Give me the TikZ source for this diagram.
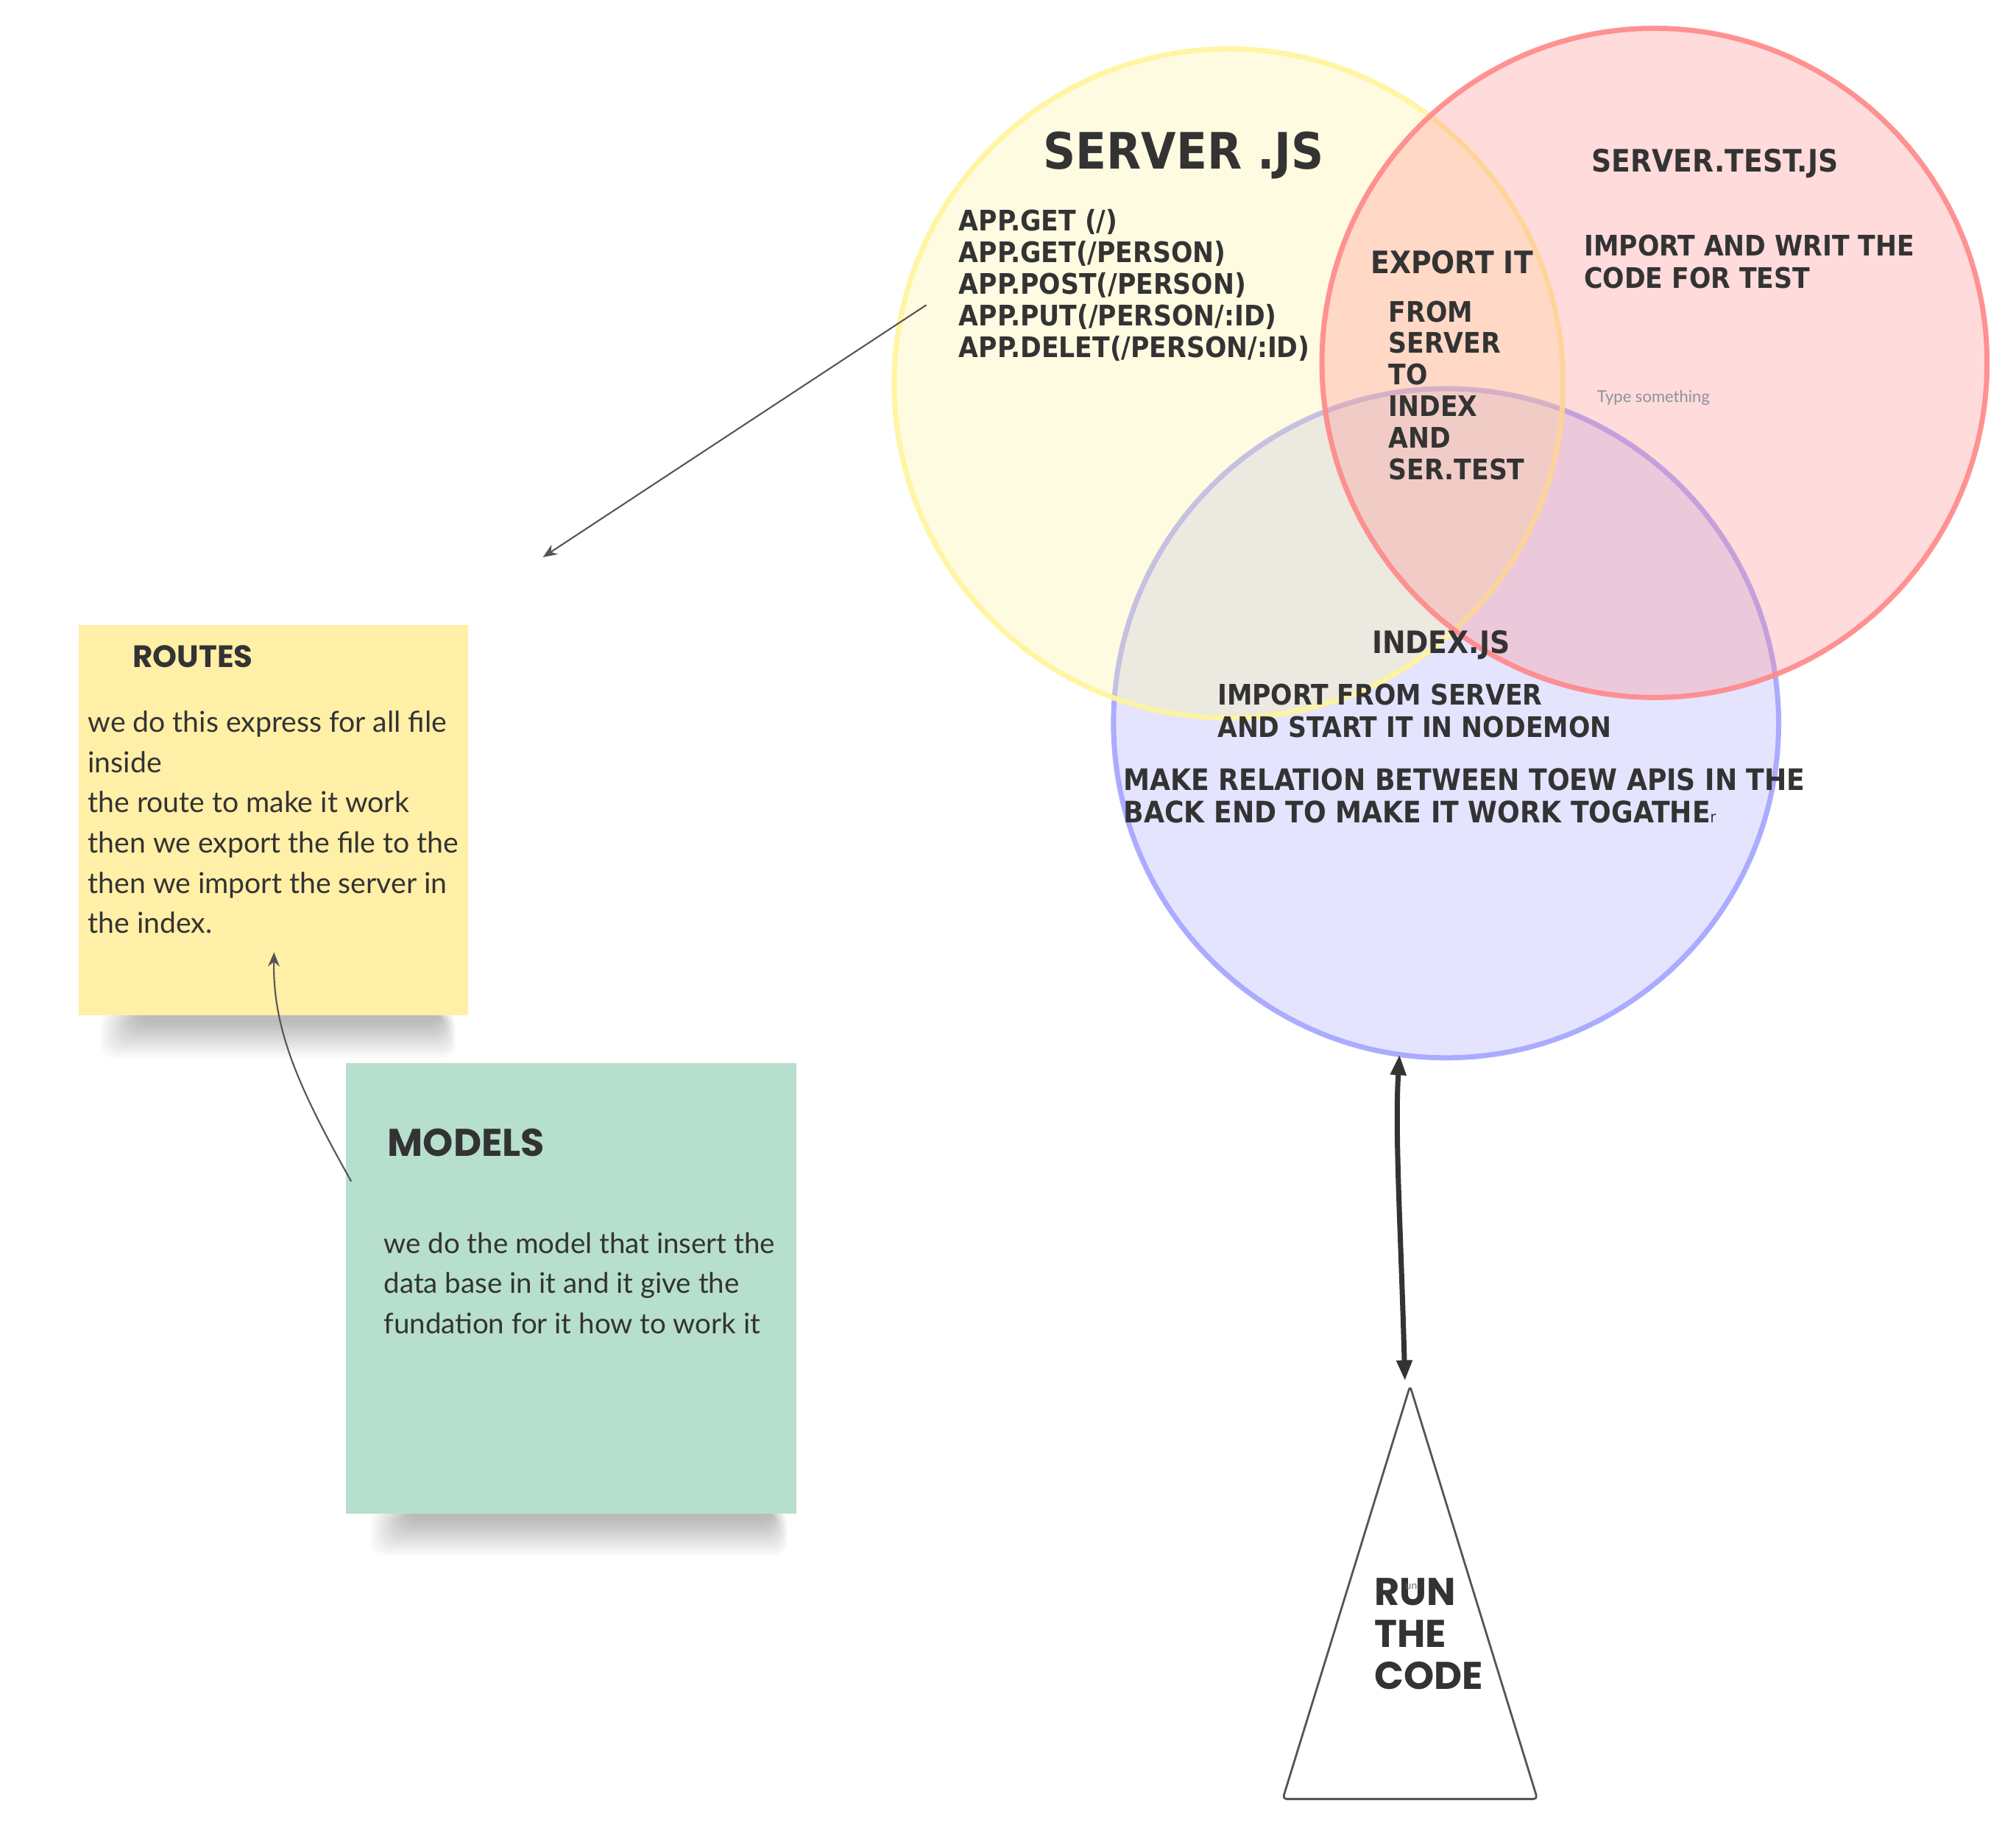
\documentclass[tikz,border=0pt]{standalone}
\usepackage{fontspec}
\setmainfont{Lato}
\newfontfamily\comic{DejaVu Sans Condensed}
\newfontfamily\wide{Poppins}
\usetikzlibrary{shapes.geometric,arrows.meta}
\definecolor{ink}{HTML}{333333}
\definecolor{yelc}{HTML}{FFF59D}
\definecolor{redc}{HTML}{FF8A8A}
\definecolor{bluc}{HTML}{A6A6FF}
\definecolor{noteA}{HTML}{FFEFA7}
\definecolor{noteB}{HTML}{B7DFCD}
\definecolor{arrc}{HTML}{555555}
\definecolor{hintc}{HTML}{8C939C}
\tikzset{
  venn/.style={ellipse, inner sep=0pt, outer sep=0pt, line width=2pt, fill opacity=0.3, draw opacity=0.92},
  caps/.style={inner sep=0pt, text=ink, align=left, font=\comic\bfseries\fontsize{11}{12.3}\selectfont},
  capshead/.style={caps, font=\comic\bfseries\fontsize{12}{13}\selectfont},
  hand/.style={inner sep=0pt, text=ink, align=left, font=\fontsize{11.2}{15.6}\selectfont},
  widehead/.style={inner sep=0pt, text=ink, align=left, font=\wide\bfseries\fontsize{12}{13}\selectfont},
  note/.style={inner sep=0pt, outer sep=0pt, draw=none},
  softshadow/.style={black, opacity=0.018, rounded corners=5pt},
  thinarrow/.style={draw=arrc, line width=0.6pt, -{Stealth[length=5.5pt,width=4.5pt]}},
  bigarrow/.style={draw=ink, line width=2pt, {Triangle[length=8pt,width=5.8pt]}-{Triangle[length=8pt,width=5.8pt]}},
}
\begin{document}
\begin{tikzpicture}[x=0.5pt,y=-0.5pt]
\useasboundingbox (0,0) rectangle (1567,1422.8);
\fill[white] (0,0) rectangle (1567,1422.8);

% Venn circles (index first, then server, then test)
\node[venn, draw=bluc, fill=bluc, minimum width=258.5pt, minimum height=260pt] (idx) at (1124,562) {};
\node[venn, draw=yelc, fill=yelc, minimum width=260pt, minimum height=260pt] (srv) at (955,298) {};
\node[venn, draw=redc, fill=redc, minimum width=258.5pt, minimum height=260pt] (tst) at (1286,282) {};

% texts in circles
\node[caps, font=\comic\bfseries\fontsize{19.5}{23}\selectfont] (tsrv) at (920,121) {SERVER .JS};
\node[caps, anchor=west] (tapp) at (745,221.5) {APP.GET (/)\\APP.GET(/PERSON)\\APP.POST(/PERSON)\\APP.PUT(/PERSON/:ID)\\APP.DELET(/PERSON/:ID)};
\node[capshead] (ttst) at (1333,127) {SERVER.TEST.JS};
\node[caps, anchor=west, font=\comic\bfseries\fontsize{11}{12.5}\selectfont] (timp) at (1231,203.5) {IMPORT AND WRIT THE\\CODE FOR TEST};
\node[capshead, anchor=west] (texp) at (1065,204) {EXPORT IT};
\node[caps, anchor=west] (tfrom) at (1079,303.5) {FROM\\SERVER\\TO\\INDEX\\AND\\SER.TEST};
\node[inner sep=0pt, text=hintc, anchor=west, font=\fontsize{6.3}{7}\selectfont] (thint) at (1241,309) {Type something};
\node[capshead] (tidx) at (1120,501) {INDEX.JS};
\node[caps, anchor=west, font=\comic\bfseries\fontsize{11}{12.5}\selectfont] (tnode) at (946,552.5) {IMPORT FROM SERVER\\AND START IT IN NODEMON};
\node[caps, anchor=west, font=\comic\bfseries\fontsize{11.5}{12.5}\selectfont] (trel) at (873,618.5) {MAKE RELATION BETWEEN TOEW APIS IN THE\\BACK END TO MAKE IT WORK TOGATHE{\fontsize{6}{7}\selectfont\mdseries r}};

% arrow out of server.js
\coordinate (a1s) at (720,237);
\coordinate (a1e) at (422,433);
\draw[thinarrow] (a1s) -- (a1e);

% sticky note shadows (soft)
\foreach \k in {0,...,13}{
  \fill[softshadow] (78+2.2*\k,786) rectangle (354-0.9*\k,822-2.1*\k);
  \fill[softshadow] (288+2.2*\k,1173) rectangle (612-0.9*\k,1209-2.1*\k);
}
% routes note
\node[note, fill=noteA, minimum width=151.5pt, minimum height=151.5pt, anchor=north west] (routes) at (61,486) {};
\node[widehead] (troutes) at (150,510) {ROUTES};
\node[hand, anchor=west] (troutesb) at (68,639) {we do this express for all file\\inside\\the route to make it work\\then we export the file to the\\then we import the server in\\the index.};

% models note
\node[note, fill=noteB, minimum width=175pt, minimum height=175pt, anchor=north west] (models) at (269,826) {};
\node[widehead, anchor=west, font=\wide\bfseries\fontsize{15}{18}\selectfont] (tmodels) at (301,888) {MODELS};
\node[hand, anchor=west, font=\fontsize{11}{15.6}\selectfont] (tmodelsb) at (298,997) {we do the model that insert the\\data base in it and it give the\\fundation for it how to work it};

% curved arrow models -> routes
\coordinate (m1) at (273,918);
\coordinate (r1) at (213,740);
\draw[thinarrow] (m1) .. controls (232,845) and (212,800) .. (r1);

% triangle
\coordinate (tritop) at (1096,1077);
\coordinate (trileft) at (997,1398);
\coordinate (triright) at (1195,1398);
\draw[draw=arrc, line width=0.8pt, fill=white, line join=round, rounded corners=1.5pt] (tritop) -- (triright) -- (trileft) -- cycle;
\node[widehead, anchor=west, font=\wide\bfseries\fontsize{15}{16.3}\selectfont] (trun) at (1068,1269.5) {RUN\\THE\\CODE};
\node[inner sep=0pt, text=ink!70, font=\fontsize{4}{5}\selectfont] (tun) at (1097,1233) {un};

% double arrow index <-> triangle
\coordinate (tribelow) at (1092,1073);
\draw[bigarrow] (idx.262.8) .. controls (1084,880) and (1089,960) .. (tribelow);
\end{tikzpicture}
\end{document}
